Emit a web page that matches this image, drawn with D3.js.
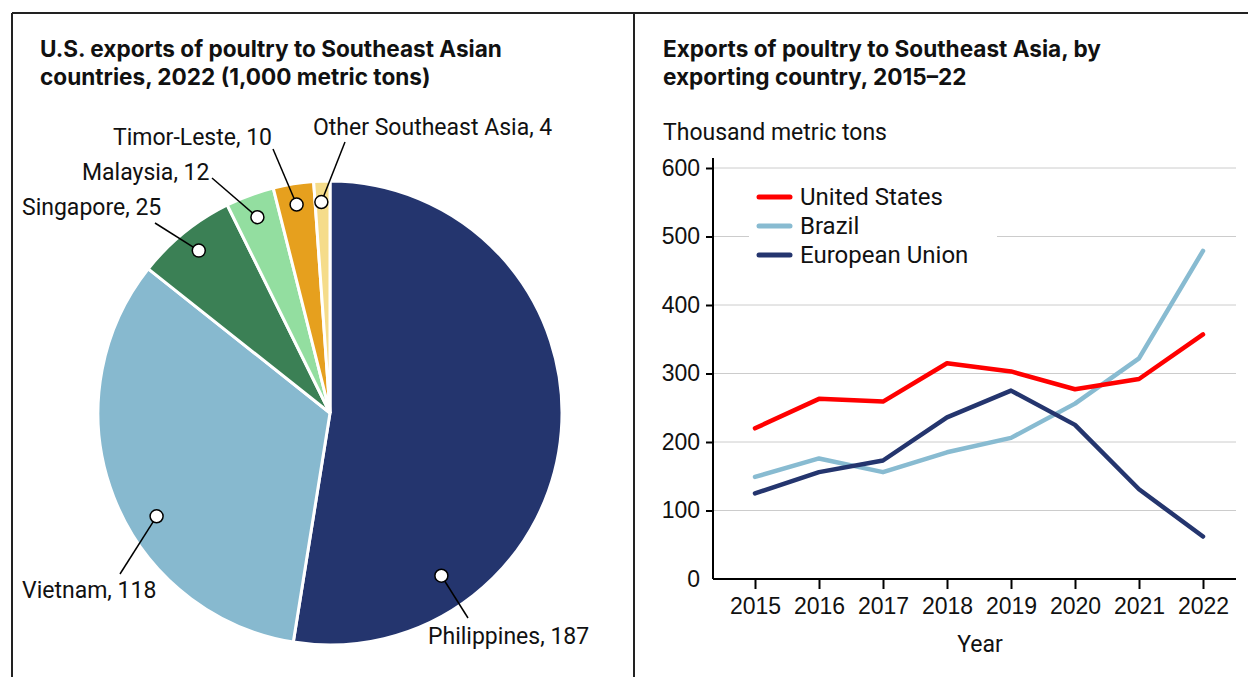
<!DOCTYPE html>
<html lang="en">
<head>
  <meta charset="UTF-8">
  <title>Poultry exports to Southeast Asia</title>
  <script src="https://d3js.org/d3.v7.min.js"></script>
  <style>
    body {
      margin: 0;
      background: white;
      font-family: Roboto, sans-serif;
    }
    .title {
      font-family: Inter, sans-serif;
      font-weight: bold;
      font-size: 22.6px;
      fill: #111;
    }
    .lbl {
      font-size: 23px;
      fill: #111;
    }
    .leg {
      font-size: 24px;
      fill: #111;
    }
    .grid line {
      stroke: #cccccc;
    }
  </style>
</head>
<body>
  <svg id="chart" width="1248" height="677"></svg>
  <script>
    // pie data: U.S. exports 2022
    const pieCountries = ["Philippines", "Vietnam", "Singapore", "Malaysia", "Timor-Leste", "Other Southeast Asia"];
    const pieValues = [187, 118, 25, 12, 10, 4];
    const pieColors = ["#24356e", "#87b9cf", "#3b8055", "#93dea0", "#e6a01e", "#f5dc8a"];

    // line chart data
    const years = [2015, 2016, 2017, 2018, 2019, 2020, 2021, 2022];
    const unitedStates = [220, 263, 259, 315, 303, 277, 292, 357];
    const brazil = [149, 176, 156, 185, 206, 256, 322, 479];
    const europeanUnion = [125, 156, 173, 236, 275, 225, 131, 62];
    const yTicks = [0, 100, 200, 300, 400, 500, 600];

    const svg = d3.select("#chart");

    // panel frame
    svg.append("line").attr("x1", 12).attr("x2", 1248).attr("y1", 13).attr("y2", 13)
      .attr("stroke", "#222").attr("stroke-width", 2);
    svg.append("line").attr("x1", 12).attr("x2", 12).attr("y1", 13).attr("y2", 677)
      .attr("stroke", "#222").attr("stroke-width", 2);
    svg.append("line").attr("x1", 634).attr("x2", 634).attr("y1", 13).attr("y2", 677)
      .attr("stroke", "#222").attr("stroke-width", 2);

    // ---------- left: pie ----------
    const leftTitle = svg.append("text").attr("class", "title").attr("x", 40).attr("y", 57);
    leftTitle.append("tspan").attr("x", 40).text("U.S. exports of poultry to Southeast Asian");
    leftTitle.append("tspan").attr("x", 40).attr("dy", 28).text("countries, 2022 (1,000 metric tons)");

    const cx = 330, cy = 413, r = 232;
    const pieG = svg.append("g").attr("transform", `translate(${cx},${cy})`);

    const pie = d3.pie().sort(null).value(d => d.value);
    const arcs = pie(pieCountries.map((c, i) => ({ name: c, value: pieValues[i], color: pieColors[i] })));
    const arc = d3.arc().innerRadius(0).outerRadius(r);

    pieG.selectAll("path.slice").data(arcs).join("path")
      .attr("class", "slice")
      .attr("d", arc)
      .attr("fill", d => d.data.color)
      .attr("stroke", "white")
      .attr("stroke-width", 3);

    // label layout: where the dot sits inside the slice (t = fraction of angle, k = fraction of radius),
    // where the leader line ends, and where the text goes
    const labelLayout = [
      { t: 0.77, k: 0.85, lx: 468, ly: 618, tx: 428, ty: 644 },
      { t: 0.42, k: 0.87, lx: 120, ly: 574, tx: 22, ty: 598 },
      { t: 0.5, k: 0.9, lx: 155, ly: 223, tx: 22, ty: 215 },
      { t: 0.49, k: 0.9, lx: 212, ly: 178, tx: 82, ty: 180 },
      { t: 0.5, k: 0.91, lx: 273, ly: 149, tx: 113, ty: 145 },
      { t: 0.42, k: 0.91, lx: 345, ly: 142, tx: 313, ty: 135 }
    ];

    arcs.forEach((a, i) => {
      const L = labelLayout[i];
      const ang = a.startAngle + (a.endAngle - a.startAngle) * L.t;
      const px = cx + Math.sin(ang) * r * L.k;
      const py = cy - Math.cos(ang) * r * L.k;
      svg.append("line")
        .attr("x1", px).attr("y1", py).attr("x2", L.lx).attr("y2", L.ly)
        .attr("stroke", "#000").attr("stroke-width", 1.5);
      svg.append("circle")
        .attr("cx", px).attr("cy", py).attr("r", 6.5)
        .attr("fill", "white").attr("stroke", "#000").attr("stroke-width", 1.5);
      svg.append("text").attr("class", "lbl")
        .attr("x", L.tx).attr("y", L.ty)
        .text(`${a.data.name}, ${a.data.value}`);
    });

    // ---------- right: line chart ----------
    const rightTitle = svg.append("text").attr("class", "title").attr("x", 663).attr("y", 57);
    rightTitle.append("tspan").attr("x", 663).text("Exports of poultry to Southeast Asia, by");
    rightTitle.append("tspan").attr("x", 663).attr("dy", 28).text("exporting country, 2015\u201322");

    svg.append("text").attr("class", "lbl").attr("x", 663).attr("y", 140).text("Thousand metric tons");

    const x0 = 713, x1 = 1236;
    const x = d3.scalePoint().domain(years).range([755, 1203]);
    const y = d3.scaleLinear().domain([0, 600]).range([579, 168]);

    // gridlines
    svg.append("g").attr("class", "grid")
      .selectAll("line").data(yTicks.filter(t => t > 0)).join("line")
      .attr("x1", x0).attr("x2", x1)
      .attr("y1", d => y(d)).attr("y2", d => y(d));

    const series = [
      { name: "Brazil", values: brazil, color: "#88bbd1" },
      { name: "European Union", values: europeanUnion, color: "#24356e" },
      { name: "United States", values: unitedStates, color: "#ff0000" }
    ];

    const line = d3.line().x((d, i) => x(years[i])).y(d => y(d));

    svg.append("g").selectAll("path").data(series).join("path")
      .attr("d", d => line(d.values))
      .attr("fill", "none")
      .attr("stroke", d => d.color)
      .attr("stroke-width", 4.5)
      .attr("stroke-linejoin", "round")
      .attr("stroke-linecap", "round");

    // axes
    const yAxis = svg.append("g").attr("transform", `translate(${x0},0)`)
      .call(d3.axisLeft(y).tickValues(yTicks).tickSize(7).tickPadding(6));
    yAxis.select(".domain").attr("d", `M0,158V${y(0)}`).attr("stroke-width", 2);
    yAxis.selectAll(".tick line").attr("stroke-width", 2);
    yAxis.selectAll(".tick text").attr("class", "lbl").attr("font-size", null).attr("font-family", null);
    yAxis.selectAll(".tick").filter(d => d === 0).select("line").remove();

    const xAxis = svg.append("g").attr("transform", `translate(0,${y(0)})`)
      .call(d3.axisBottom(x).tickSize(10).tickPadding(9));
    xAxis.select(".domain").attr("d", `M${x0},0H${x1}`).attr("stroke-width", 2);
    xAxis.selectAll(".tick line").attr("stroke-width", 2);
    xAxis.selectAll(".tick text").attr("class", "lbl").attr("font-size", null).attr("font-family", null);

    svg.append("text").attr("class", "lbl").attr("x", 980).attr("y", 652)
      .attr("text-anchor", "middle").text("Year");

    // legend
    const legendItems = [series[2], series[0], series[1]];
    const legend = svg.append("g").attr("transform", "translate(749,180)");
    legend.append("rect").attr("width", 248).attr("height", 92).attr("fill", "white");
    legend.selectAll("g").data(legendItems).join("g")
      .attr("transform", (d, i) => `translate(0,${17 + i * 29})`)
      .each(function (d) {
        const g = d3.select(this);
        g.append("line").attr("x1", 10).attr("x2", 41).attr("y1", 0).attr("y2", 0)
          .attr("stroke", d.color).attr("stroke-width", 5).attr("stroke-linecap", "round");
        g.append("text").attr("class", "leg").attr("x", 51).attr("y", 8).text(d.name);
      });
  </script>
</body>
</html>
